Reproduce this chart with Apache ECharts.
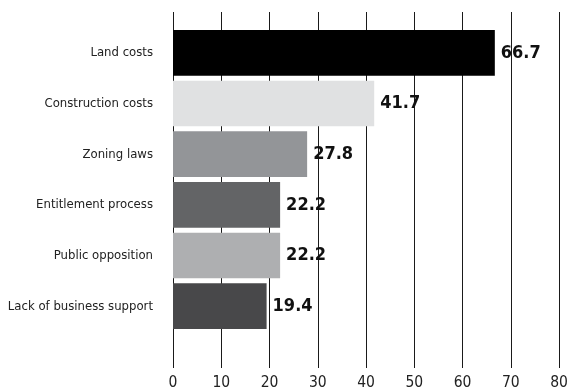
<!DOCTYPE html>
<html>
<head>
<meta charset="utf-8">
<script src="https://cdn.jsdelivr.net/npm/echarts@6/dist/echarts.min.js"></script>
<style>
  html, body { margin: 0; padding: 0; background: #fff; }
  #chart { width: 573px; height: 389px; }
</style>
</head>
<body>
<div id="chart"></div>
<script>
// Barriers ranked by share of respondents (%)
const categories = [
  'Land costs',
  'Construction costs',
  'Zoning laws',
  'Entitlement process',
  'Public opposition',
  'Lack of business support'
];
const values = [66.7, 41.7, 27.8, 22.2, 22.2, 19.4];
const barColors = ['#000000', '#e0e1e2', '#939598', '#636466', '#aeafb1', '#48484a'];
const tickValues = [0, 10, 20, 30, 40, 50, 60, 70, 80];

const FONT = '"Liberation Sans Narrow", "DejaVu Sans Condensed", "Liberation Sans", sans-serif';

const chart = echarts.init(document.getElementById('chart'), null, { renderer: 'canvas' });

chart.setOption({
  backgroundColor: '#ffffff',
  animation: false,
  grid: [
    // full-height grid that carries the vertical rules and tick labels
    { left: 173, right: 14, top: 12, bottom: 21, outerBoundsMode: 'none', containLabel: false },
    // bar area
    { left: 173, right: 14, top: 27.5, height: 304, outerBoundsMode: 'none', containLabel: false }
  ],
  xAxis: [
    {
      gridIndex: 0,
      type: 'value',
      min: tickValues[0],
      max: tickValues[tickValues.length - 1],
      interval: tickValues[1] - tickValues[0],
      axisLine: { show: false },
      axisTick: { show: false },
      splitLine: { show: true, lineStyle: { color: '#1a1a1a', width: 1 } },
      axisLabel: { color: '#222', fontFamily: FONT, fontSize: 15.5, margin: 7 }
    },
    {
      gridIndex: 1,
      type: 'value',
      min: tickValues[0],
      max: tickValues[tickValues.length - 1],
      show: false
    }
  ],
  yAxis: [
    {
      gridIndex: 0,
      type: 'category',
      data: [''],
      show: false
    },
    {
      gridIndex: 1,
      type: 'category',
      data: categories,
      inverse: true,
      axisLine: { show: false },
      axisTick: { show: false },
      splitLine: { show: false },
      axisLabel: { color: '#222', fontFamily: FONT, fontSize: 13, margin: 20 }
    }
  ],
  series: [
    {
      type: 'bar',
      xAxisIndex: 1,
      yAxisIndex: 1,
      barCategoryGap: '10%',
      data: values.map((v, i) => ({ value: v, itemStyle: { color: barColors[i] } })),
      label: {
        show: true,
        position: 'right',
        distance: 6,
        color: '#111',
        fontFamily: FONT,
        fontWeight: 'bold',
        fontSize: 18,
        formatter: p => p.value.toFixed(1)
      }
    }
  ]
});
</script>
</body>
</html>
